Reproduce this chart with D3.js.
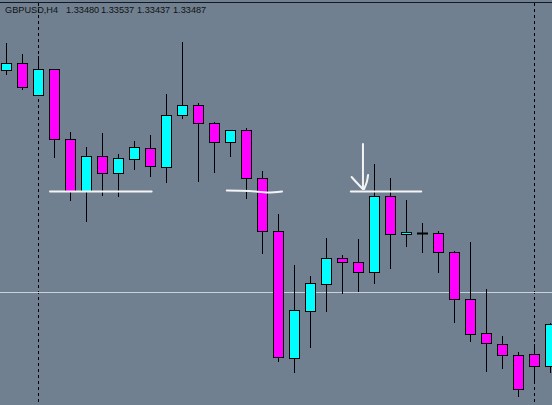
<!DOCTYPE html>
<html>
<head>
<meta charset="utf-8">
<script src="https://cdn.jsdelivr.net/npm/d3@7"></script>
<style>
  html, body { margin: 0; padding: 0; background: #708090; overflow: hidden; }
  svg { display: block; }
</style>
</head>
<body>
<script>
// GBPUSD H4 candles
const symbol = "GBPUSD,H4";
const headerValues = ["1.33480", "1.33537", "1.33437", "1.33487"];

const opens  = [1.3570, 1.3577, 1.3545, 1.3571, 1.3501, 1.3449, 1.3484, 1.3467, 1.3481, 1.3492,
                1.3473, 1.3525, 1.3535, 1.3517, 1.3498, 1.3510, 1.3462, 1.3409, 1.3282, 1.3329,
                1.3356, 1.3382, 1.3378, 1.3368, 1.3444, 1.3406, 1.3407, 1.3407, 1.3388, 1.3341,
                1.3307, 1.3296, 1.3285, 1.3286, 1.3274];
const highs  = [1.3597, 1.3586, 1.3584, 1.3571, 1.3508, 1.3493, 1.3507, 1.3486, 1.3499, 1.3505,
                1.3546, 1.3598, 1.3537, 1.3518, 1.3510, 1.3512, 1.3469, 1.3426, 1.3375, 1.3364,
                1.3402, 1.3385, 1.3401, 1.3476, 1.3462, 1.3440, 1.3417, 1.3409, 1.3389, 1.3398,
                1.3351, 1.3304, 1.3288, 1.3296, 1.3317];
const lows   = [1.3566, 1.3551, 1.3545, 1.3483, 1.3440, 1.3419, 1.3445, 1.3444, 1.3471, 1.3464,
                1.3458, 1.3522, 1.3459, 1.3468, 1.3484, 1.3442, 1.3387, 1.3279, 1.3268, 1.3293,
                1.3329, 1.3347, 1.3349, 1.3357, 1.3372, 1.3394, 1.3388, 1.3368, 1.3318, 1.3299,
                1.3269, 1.3272, 1.3244, 1.3260, 1.3268];
const closes = [1.3577, 1.3553, 1.3571, 1.3501, 1.3449, 1.3484, 1.3467, 1.3482, 1.3493, 1.3474,
                1.3525, 1.3535, 1.3517, 1.3498, 1.3510, 1.3462, 1.3409, 1.3283, 1.3330, 1.3357,
                1.3382, 1.3378, 1.3368, 1.3444, 1.3406, 1.3408, 1.3407, 1.3388, 1.3341, 1.3306,
                1.3297, 1.3285, 1.3251, 1.3274, 1.3316];

const bidPrice = 1.3348;
const separators = [2, 33];   // bar index of period separators

// hand drawn marks, [bar index, price]
const drawnLines = [
  [[2.75, 1.34485], [9.1, 1.34485]],
  [[13.8, 1.34495], [15.2, 1.34490], [16.4, 1.34475], [17.25, 1.34485]],
  [[21.55, 1.34485], [25.95, 1.34485]],
  [[22.31, 1.3496], [22.31, 1.3451]],
  [[21.6, 1.3463], [22.0, 1.3456], [22.3, 1.3451]],
  [[22.63, 1.3465], [22.55, 1.3458], [22.38, 1.3451]]
];

const W = 552, H = 405;

const candles = opens.map((o, i) => ({i: i, o: o, h: highs[i], l: lows[i], c: closes[i]}));

const x = d3.scaleLinear().domain([0, 34]).range([6, 550]);
const y = d3.scaleLinear().domain([1.3640 - H / 10000, 1.3640]).range([H, 0]);
const py = p => Math.round(y(p));

const svg = d3.select("body").append("svg")
  .attr("width", W)
  .attr("height", H);

svg.append("rect").attr("width", W).attr("height", H).attr("fill", "#708090");

// top border
svg.append("line")
  .attr("x1", 0).attr("x2", W)
  .attr("y1", 2.5).attr("y2", 2.5)
  .attr("stroke", "#141820").attr("stroke-width", 1);

// period separators
svg.selectAll(".sep")
  .data(separators)
  .enter().append("line")
  .attr("class", "sep")
  .attr("x1", d => x(d) + 0.5).attr("x2", d => x(d) + 0.5)
  .attr("y1", 3).attr("y2", H)
  .attr("stroke", "#000")
  .attr("stroke-dasharray", "3,3");

// bid line
svg.append("line")
  .attr("x1", 0).attr("x2", W)
  .attr("y1", py(bidPrice) + 0.5).attr("y2", py(bidPrice) + 0.5)
  .attr("stroke", "#c9d1d9").attr("stroke-width", 1);

// header
const head = svg.append("g")
  .attr("font-family", "'Liberation Sans', Arial, sans-serif")
  .attr("font-size", 9.2)
  .attr("fill", "#111");
head.append("text").attr("x", 5).attr("y", 13).text(symbol);
const headX = [66, 101, 137, 173];
headerValues.forEach((v, k) => {
  head.append("text").attr("x", headX[k]).attr("y", 13).text(v);
});

// wicks
svg.selectAll(".wick")
  .data(candles)
  .enter().append("line")
  .attr("class", "wick")
  .attr("x1", d => x(d.i) + 0.5).attr("x2", d => x(d.i) + 0.5)
  .attr("y1", d => py(d.h)).attr("y2", d => py(d.l) + 1)
  .attr("stroke", "#000").attr("stroke-width", 1);

// bodies
const bodies = candles.filter(d => d.o !== d.c);
svg.selectAll(".body")
  .data(bodies)
  .enter().append("rect")
  .attr("class", "body")
  .attr("x", d => x(d.i) - 5 + 0.5)
  .attr("width", 10)
  .attr("y", d => py(Math.max(d.o, d.c)) + 0.5)
  .attr("height", d => py(Math.min(d.o, d.c)) - py(Math.max(d.o, d.c)))
  .attr("fill", d => d.c > d.o ? "#00ffff" : "#ff00ff")
  .attr("stroke", "#000").attr("stroke-width", 1);

// doji
const dojis = candles.filter(d => d.o === d.c);
svg.selectAll(".doji")
  .data(dojis)
  .enter().append("line")
  .attr("class", "doji")
  .attr("x1", d => x(d.i) - 5).attr("x2", d => x(d.i) + 6)
  .attr("y1", d => py(d.o) + 0.5).attr("y2", d => py(d.o) + 0.5)
  .attr("stroke", "#000").attr("stroke-width", 2);

// hand drawn marks
const pen = d3.line()
  .x(d => x(d[0]))
  .y(d => y(d[1]))
  .curve(d3.curveMonotoneX);

const penV = d3.line()
  .x(d => x(d[0]))
  .y(d => y(d[1]))
  .curve(d3.curveCatmullRom);

svg.selectAll(".drawn")
  .data(drawnLines)
  .enter().append("path")
  .attr("class", "drawn")
  .attr("d", (d, k) => k < 3 ? pen(d) : penV(d))
  .attr("fill", "none")
  .attr("stroke", "#f4f4f4")
  .attr("stroke-width", 2)
  .attr("stroke-linecap", "round");
</script>
</body>
</html>
